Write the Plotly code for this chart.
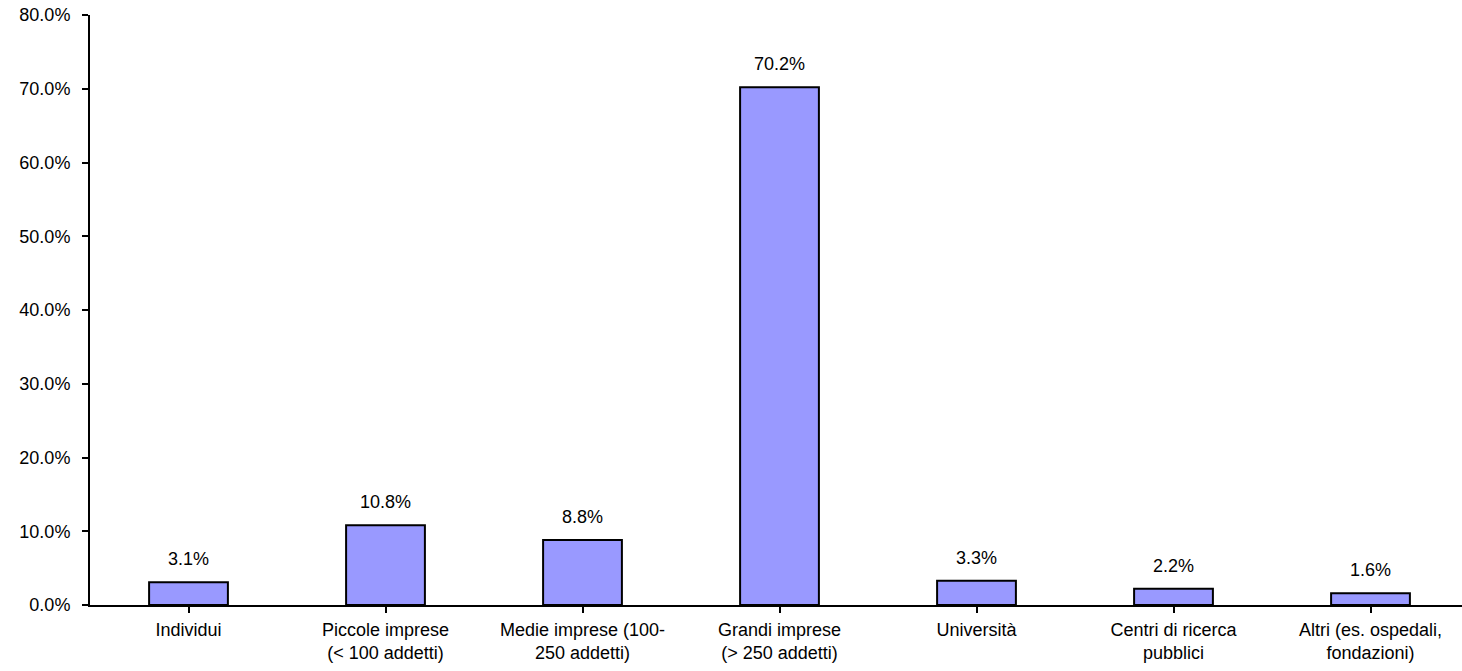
import plotly.graph_objects as go

categories = [
    "Individui",
    "Piccole imprese<br>(&lt; 100 addetti)",
    "Medie imprese (100-<br>250 addetti)",
    "Grandi imprese<br>(&gt; 250 addetti)",
    "Università",
    "Centri di ricerca<br>pubblici",
    "Altri (es. ospedali,<br>fondazioni)",
]
values = [0.031, 0.108, 0.088, 0.702, 0.033, 0.022, 0.016]
y_ticks = [0.0, 0.1, 0.2, 0.3, 0.4, 0.5, 0.6, 0.7, 0.8]

FONT = "Liberation Sans, Arial, sans-serif"
FS = 18
x_idx = list(range(len(categories)))

fig = go.Figure()
fig.add_trace(go.Bar(
    x=x_idx, y=values, width=0.4,
    marker=dict(color="#9999FF", line=dict(color="black", width=2)),
    hoverinfo="skip",
))
for i, v in zip(x_idx, values):
    fig.add_annotation(x=i, y=v, text=f"{v*100:.1f}%", showarrow=False,
                       yanchor="bottom", yshift=11,
                       font=dict(family=FONT, size=FS, color="black"))

fig.update_layout(
    width=1462, height=671,
    margin=dict(l=90, r=0, t=15, b=66),
    paper_bgcolor="white", plot_bgcolor="white",
    showlegend=False,
    font=dict(family=FONT, size=FS, color="black"),
)
fig.update_xaxes(
    range=[-0.5, -0.5 + 1372 / 197],
    tickmode="array", tickvals=x_idx, ticktext=categories,
    showline=True, linecolor="black", linewidth=2,
    ticks="outside", ticklen=6, tickwidth=2, tickcolor="black",
    tickson="boundaries", showgrid=False, zeroline=False,
    ticklabelstandoff=1,
    tickfont=dict(family=FONT, size=FS, color="black"),
)
fig.update_yaxes(
    range=[0, 0.8], tickmode="array", tickvals=y_ticks, tickformat=".1%",
    showline=True, linecolor="black", linewidth=2,
    ticks="outside", ticklen=6, tickwidth=2, tickcolor="black",
    showgrid=False, zeroline=False,
    ticklabelstandoff=8,
    tickfont=dict(family=FONT, size=FS, color="black"),
)
fig.write_html("out.html")
